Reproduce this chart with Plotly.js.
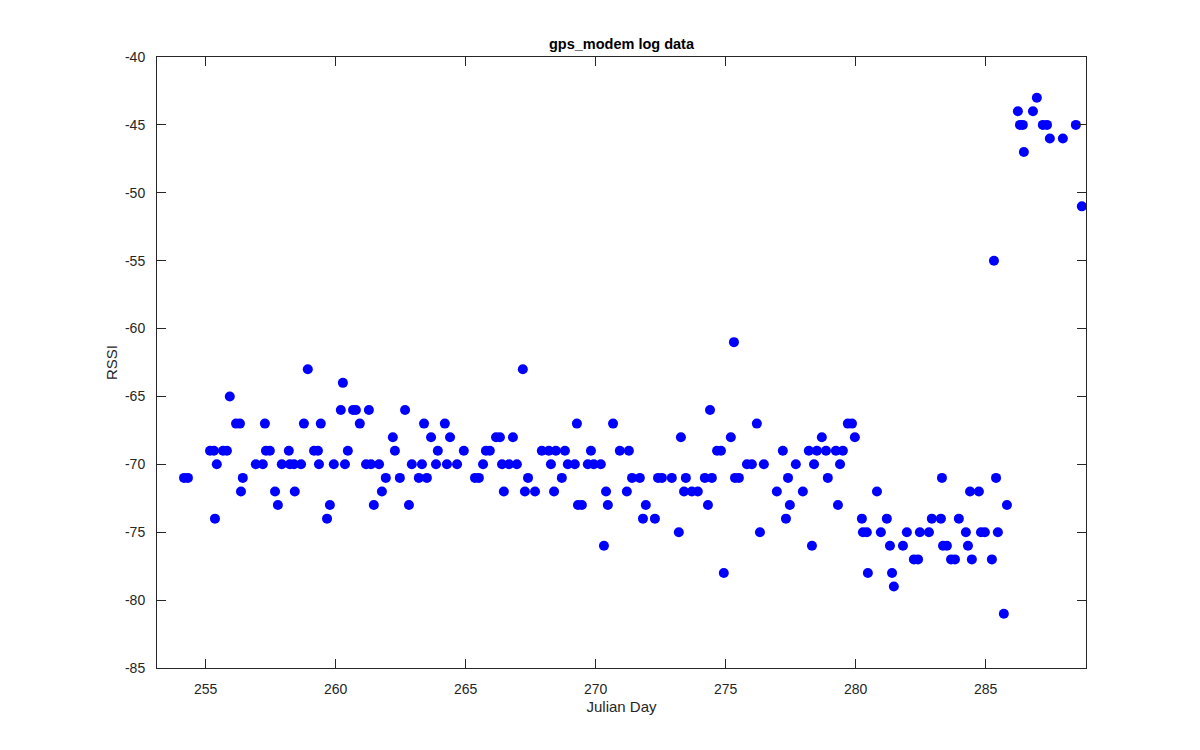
<!DOCTYPE html>
<html>
<head>
<meta charset="utf-8">
<script src="https://cdn.plot.ly/plotly-3.0.1.min.js"></script>
<style>html,body{margin:0;padding:0;background:#fff;}#chart{width:1200px;height:750px;}</style>
</head>
<body>
<div id="chart"></div>
<script>
const julianDay = [
  254.17,254.32,255.17,255.32,255.36,255.43,255.67,255.82,255.93,256.17,
  256.32,256.36,256.43,256.93,257.20,257.28,257.32,257.47,257.67,257.78,
  257.93,258.20,258.24,258.40,258.43,258.67,258.78,258.93,259.17,259.32,
  259.36,259.43,259.67,259.78,259.93,260.20,260.28,260.36,260.47,260.67,
  260.78,260.93,261.17,261.28,261.36,261.47,261.67,261.78,261.93,262.20,
  262.28,262.47,262.67,262.82,262.93,263.20,263.32,263.40,263.51,263.67,
  263.86,263.93,264.20,264.28,264.40,264.67,264.93,265.36,265.51,265.67,
  265.78,265.93,266.17,266.32,266.40,266.47,266.67,266.82,266.97,267.20,
  267.28,267.40,267.67,267.93,268.20,268.28,268.40,268.47,268.70,268.82,
  268.93,269.20,269.28,269.32,269.47,269.70,269.82,269.93,270.20,270.32,
  270.40,270.47,270.67,270.93,271.20,271.28,271.40,271.70,271.82,271.93,
  272.28,272.40,272.55,272.93,273.20,273.28,273.40,273.47,273.70,273.93,
  274.20,274.32,274.40,274.47,274.67,274.82,274.93,275.20,275.32,275.36,
  275.51,275.82,276.01,276.20,276.32,276.47,276.97,277.20,277.32,277.40,
  277.47,277.70,277.97,278.20,278.32,278.40,278.51,278.70,278.86,278.93,
  279.24,279.32,279.40,279.51,279.70,279.86,279.97,280.24,280.28,280.43,
  280.47,280.82,280.97,281.20,281.32,281.40,281.47,281.82,281.97,282.24,
  282.40,282.47,282.82,282.93,283.28,283.32,283.36,283.51,283.67,283.82,
  283.97,284.24,284.32,284.40,284.47,284.74,284.82,284.97,285.24,285.32,
  285.40,285.47,285.70,285.82,286.24,286.32,286.43,286.47,286.82,286.97,
  287.20,287.36,287.47,287.97,288.47,288.70
];
const rssi = [
  -71,-71,-69,-69,-74,-70,-69,-69,-65,-67,
  -67,-72,-71,-70,-70,-67,-69,-69,-72,-73,
  -70,-69,-70,-70,-72,-70,-67,-63,-69,-69,
  -70,-67,-74,-73,-70,-66,-64,-70,-69,-66,
  -66,-67,-70,-66,-70,-73,-70,-72,-71,-68,
  -69,-71,-66,-73,-70,-71,-70,-67,-71,-68,
  -70,-69,-67,-70,-68,-70,-69,-71,-71,-70,
  -69,-69,-68,-68,-70,-72,-70,-68,-70,-63,
  -72,-71,-72,-69,-69,-70,-72,-69,-71,-69,
  -70,-70,-67,-73,-73,-70,-69,-70,-70,-76,
  -72,-73,-67,-69,-72,-69,-71,-71,-74,-73,
  -74,-71,-71,-71,-75,-68,-72,-71,-72,-72,
  -71,-73,-66,-71,-69,-69,-78,-68,-61,-71,
  -71,-70,-70,-67,-75,-70,-72,-69,-74,-71,
  -73,-70,-72,-69,-76,-70,-69,-68,-69,-71,
  -69,-73,-70,-69,-67,-67,-68,-74,-75,-75,
  -78,-72,-75,-74,-76,-78,-79,-76,-75,-77,
  -77,-75,-75,-74,-74,-71,-76,-76,-77,-77,
  -74,-75,-76,-72,-77,-72,-75,-75,-77,-55,
  -71,-75,-81,-73,-44,-45,-45,-47,-44,-43,
  -45,-45,-46,-46,-45,-51
];
const xTicks = [255,260,265,270,275,280,285];
const yTicks = [-85,-80,-75,-70,-65,-60,-55,-50,-45,-40];

const axisColor = '#262626';
const fontFam = '"Liberation Sans", Arial, Helvetica, sans-serif';

const trace = {
  x: julianDay, y: rssi, type: 'scatter', mode: 'markers',
  marker: {color: '#0000FF', size: 10, line: {width: 0}},
  hoverinfo: 'x+y'
};

const layout = {
  width: 1200, height: 750,
  paper_bgcolor: '#ffffff', plot_bgcolor: '#ffffff',
  margin: {l: 157, r: 114, t: 57, b: 82, pad: 0},
  showlegend: false,
  font: {family: fontFam, size: 14, color: axisColor},
  title: {text: '<b>gps_modem log data</b>', x: 0.5, xref: 'paper', y: 1, yref: 'paper', yanchor: 'bottom', pad: {b: 8},
          font: {family: fontFam, size: 14.5, color: '#000000'}},
  xaxis: {
    range: [253.13, 288.86], tickvals: xTicks, ticktext: xTicks.map(String),
    ticks: 'inside', ticklen: 9, tickwidth: 1, tickcolor: axisColor,
    showline: true, linecolor: axisColor, linewidth: 1, mirror: 'ticks',
    showgrid: false, zeroline: false, ticklabelstandoff: 8,
    tickfont: {family: fontFam, size: 14, color: axisColor},
    title: {text: 'Julian Day', font: {family: fontFam, size: 15, color: axisColor}, standoff: 5}
  },
  yaxis: {
    range: [-85, -40], tickvals: yTicks, ticktext: yTicks.map(String),
    ticks: 'inside', ticklen: 9, tickwidth: 1, tickcolor: axisColor,
    showline: true, linecolor: axisColor, linewidth: 1, mirror: 'ticks',
    showgrid: false, zeroline: false, ticklabelstandoff: 8,
    tickfont: {family: fontFam, size: 14, color: axisColor},
    title: {text: 'RSSI', font: {family: fontFam, size: 15, color: axisColor}, standoff: 3}
  }
};

Plotly.newPlot('chart', [trace], layout, {displayModeBar: false, staticPlot: true});
</script>
</body>
</html>
